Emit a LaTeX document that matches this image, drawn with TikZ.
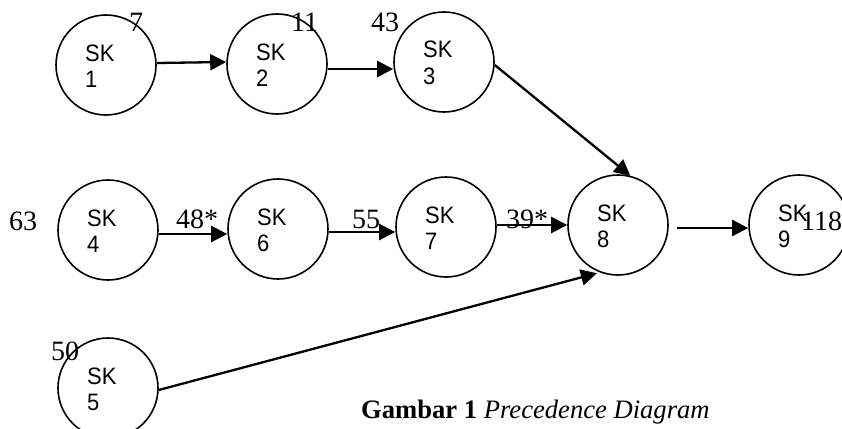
\documentclass[tikz,border=0pt]{standalone}
\usepackage{fontspec}
\setmainfont{Liberation Serif}
\setsansfont{Liberation Sans}
\usetikzlibrary{arrows.meta}

\begin{document}
\begin{tikzpicture}[x=1pt,y=-1pt,
  task/.style={circle,draw,line width=1.6pt,minimum size=100pt,inner sep=0pt},
  tasktext/.style={font=\sffamily\fontsize{22}{26}\selectfont,anchor=base west,inner sep=0pt},
  num/.style={font=\fontsize{28}{30}\selectfont,anchor=base west,inner sep=0pt},
  link/.style={line width=2.3pt,-{Triangle[length=16pt,width=16pt]}}]
\useasboundingbox (0,0) rectangle (842,428);
\clip (0,0) rectangle (842,428);

% task circles with their two-line labels
\foreach \n/\x/\y in {1/106/65, 2/277/64, 3/444/62, 4/108/230, 6/278/229,
                      7/446/227, 8/618/225, 9/799/225, 5/108/388} {
  \node[task] (sk\n) at (\x,\y) {};
  \node[tasktext] (sk\n-a) at ([shift={(-21,-4)}]sk\n.center) {\scalebox{1}[1.08]{SK}};
  \node[tasktext] (sk\n-b) at ([shift={(-21,22)}]sk\n.center) {\scalebox{1}[1.08]{\n}};
}

% precedence links
\draw[link] ([yshift=2pt]sk1.east) -- ([yshift=2pt]sk2.west);
\draw[link] ([yshift=-5pt]sk2.east) -- ([yshift=-7pt]sk3.west);
\draw[link] ([yshift=-3pt]sk3.east) -- (sk8.76);
\draw[link] ([yshift=-4pt]sk4.east) -- ([yshift=-5pt]sk6.west);
\draw[link] ([yshift=-3pt]sk6.east) -- ([yshift=-5pt]sk7.west);
\draw[link] ([yshift=2pt]sk7.east) -- (sk8.west);
\draw[link,shorten <=8pt] ([yshift=-3pt]sk8.east) -- ([yshift=-3pt]sk9.west);
\draw[link,shorten >=3pt] ([yshift=-2pt]sk5.east) -- (sk8.249);

% time values
\node[num] (t1) at (129,32) {7};
\node[num] (t2) at (291,32) {11};
\node[num] (t3) at (371,32) {43};
\node[num] (t4) at (9,230) {63};
\node[num] (t6) at (176,228) {48*};
\node[num] (t7) at (352,228) {55};
\node[num] (t8) at (506,228) {39*};
\node[num] (t9) at (801,230) {118};
\node[num] (t5) at (51,360) {50};

% caption
\node[font=\fontsize{26.6}{30}\selectfont,anchor=base west,inner sep=0pt] (cap)
  at (361,418) {\textbf{Gambar 1} \textit{Precedence Diagram}};
\end{tikzpicture}
\end{document}
